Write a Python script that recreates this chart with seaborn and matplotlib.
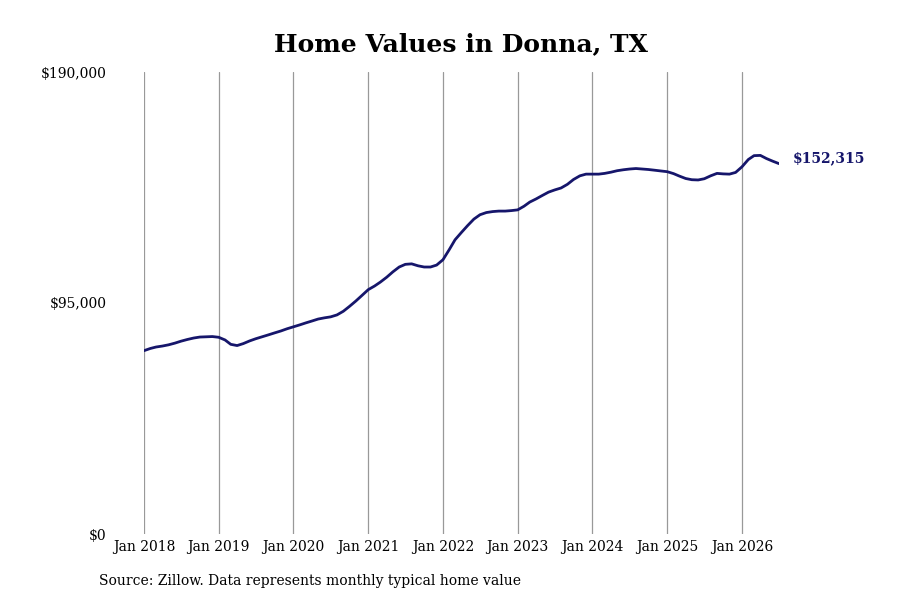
import matplotlib
matplotlib.use("Agg")
import matplotlib.pyplot as plt
import matplotlib.dates as mdates
import matplotlib.ticker as mticker
import pandas as pd
import seaborn as sns

# monthly typical home value (Jan 2018 .. Jul 2026)
start_month = "2018-01-01"
values_2018 = [75400, 76300, 76900, 77300, 77800, 78500, 79300, 80000, 80600, 81000, 81100, 81200]
values_2019 = [80900, 79800, 78000, 77500, 78300, 79400, 80300, 81100, 81900, 82700, 83500, 84400]
values_2020 = [85200, 86000, 86800, 87600, 88400, 88900, 89300, 90100, 91600, 93600, 95800, 98100]
values_2021 = [100500, 102000, 103600, 105600, 107800, 109800, 110900, 111100, 110300, 109800, 109800, 110600]
values_2022 = [112800, 117000, 121000, 124000, 126800, 129500, 131300, 132200, 132600, 132800, 132800, 133000]
values_2023 = [133300, 134800, 136500, 137800, 139200, 140600, 141500, 142300, 143800, 145800, 147300, 148000]
values_2024 = [148000, 148000, 148300, 148800, 149400, 149800, 150100, 150300, 150100, 149900, 149600, 149300]
values_2025 = [149000, 148200, 147200, 146200, 145700, 145600, 146100, 147300, 148300, 148100, 148000, 148700]
values_2026 = [151000, 154000, 155600, 155700, 154400, 153300, 152315]
y_ticks = [0, 95000, 190000]

title = "Home Values in Donna, TX"
source_note = "Source: Zillow. Data represents monthly typical home value"

values = (values_2018 + values_2019 + values_2020 + values_2021 + values_2022
          + values_2023 + values_2024 + values_2025 + values_2026)
df = pd.DataFrame({
    "month": pd.date_range(start_month, periods=len(values), freq="MS"),
    "value": values,
})

sns.set_style("white")
plt.rcParams["font.family"] = ["DejaVu Serif"]
plt.rcParams["text.color"] = "black"

line_color = "#16166b"

fig = plt.figure(figsize=(9, 6), dpi=100)
ax = fig.add_axes([0.16, 0.11, 0.706, 0.77])

sns.lineplot(data=df, x="month", y="value", ax=ax, color=line_color, linewidth=2)

ax.set_ylim(0, 190000)
ax.set_yticks(y_ticks)
ax.yaxis.set_major_formatter(mticker.FuncFormatter(lambda v, p: "${:,.0f}".format(v)))
ax.set_xlim(df["month"].iloc[0], df["month"].iloc[-1] + pd.Timedelta(days=2))
ax.xaxis.set_major_locator(mdates.YearLocator(1, month=1, day=1))
ax.xaxis.set_major_formatter(mdates.DateFormatter("Jan %Y"))
ax.grid(axis="x", color="#999999", linewidth=0.9)
ax.grid(axis="y", visible=False)
for s in ax.spines.values():
    s.set_visible(False)
ax.tick_params(axis="both", length=0, labelsize=10, colors="black")
ax.tick_params(axis="y", pad=27)
ax.tick_params(axis="x", pad=4)
ax.set_xlabel("")
ax.set_ylabel("")

last = df.iloc[-1]
ax.annotate("${:,.0f}".format(last["value"]), xy=(last["month"], last["value"]),
            xytext=(10, 4), textcoords="offset points", ha="left", va="center",
            fontsize=10, fontweight="bold", color=line_color, annotation_clip=False)

fig.text(0.512, 0.927, title, ha="center", va="center", fontsize=18,
         fontweight="bold", color="black")
fig.text(0.11, 0.032, source_note, ha="left", va="center", fontsize=10, color="black")

fig.savefig("out.png", dpi=100, facecolor="white")
